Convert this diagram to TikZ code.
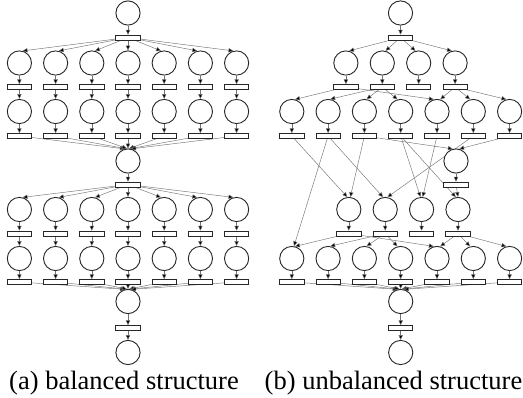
\documentclass[tikz,border=0pt]{standalone}
\usepackage{fontspec}
\setmainfont{Liberation Serif}
\usetikzlibrary{arrows.meta,backgrounds}
\tikzset{
  pl/.style={circle, draw=black!85, line width=0.9pt, minimum size=24.2pt, inner sep=0pt, fill=white},
  tr/.style={rectangle, draw=black!85, line width=0.75pt, minimum width=24.3pt, minimum height=4.8pt, inner sep=0pt, fill=white},
  arc/.style={draw=black!55, line width=0.45pt, -{Triangle[length=4.8pt,width=4.2pt,fill=black]}},
  capt/.style={anchor=base, inner sep=0pt, font=\fontsize{26.5}{30}\selectfont},
}
\begin{document}
\begin{tikzpicture}[x=1pt,y=-1pt]
\useasboundingbox (0,0) rectangle (523,398);
% ---------------- (a) balanced ----------------
\node[pl] (a0) at (128,13) {};
\node[tr] (at0) at (128,37.5) {};
\foreach \i in {1,...,7} {
  \pgfmathsetmacro{\xx}{128+36.2*(\i-4)}
  \node[pl] (a1\i) at (\xx,63) {};
  \node[tr] (at1\i) at (\xx,87) {};
  \node[pl] (a2\i) at (\xx,111.5) {};
  \node[tr] (at2\i) at (\xx,136) {};
  \node[pl] (a3\i) at (\xx,209.5) {};
  \node[tr] (at3\i) at (\xx,233.5) {};
  \node[pl] (a4\i) at (\xx,258.5) {};
  \node[tr] (at4\i) at (\xx,282) {};
}
\node[pl] (am) at (128,161) {};
\node[tr] (atm) at (128,184.5) {};
\node[pl] (ab) at (128,301.5) {};
\node[tr] (atb) at (128,328) {};
\node[pl] (ae) at (128,352.5) {};
% ---------------- (b) unbalanced ----------------
\node[pl] (b0) at (400.5,13) {};
\node[tr] (bt0) at (400.5,37.5) {};
\foreach \i in {1,...,4} {
  \pgfmathsetmacro{\xa}{400.5+36.4*(\i-2.5)}
  \pgfmathsetmacro{\xb}{403.4+36.4*(\i-2.5)}
  \node[pl] (b1\i) at (\xa,63) {};
  \node[tr] (bt1\i) at (\xa,87) {};
  \node[pl] (b3\i) at (\xb,209.5) {};
  \node[tr] (bt3\i) at (\xb,233.5) {};
}
\foreach \i in {1,...,7} {
  \pgfmathsetmacro{\xx}{400.7+36.3*(\i-4)}
  \node[pl] (b2\i) at (\xx,111.5) {};
  \node[tr] (bt2\i) at (\xx,136) {};
  \node[pl] (b4\i) at (\xx,258.5) {};
  \node[tr] (bt4\i) at (\xx,282) {};
}
\node[pl] (bm) at (456,161) {};
\node[tr] (btm) at (456,184.5) {};
\node[pl] (bb) at (400.7,301.5) {};
\node[tr] (btb) at (400.7,328) {};
\node[pl] (be) at (400.7,352.5) {};
% ---------------- arcs ----------------
\begin{scope}[on background layer]
  % (a)
  \draw[arc] (a0) -- (at0);
  \foreach \i in {1,...,7} {
    \pgfmathsetmacro{\fan}{90+15*sign(\i-4)}
    \pgfmathsetmacro{\cnv}{90+5*(4-\i)}
    \draw[arc] (at0) -- (a1\i.\fan);
    \draw[arc] (a1\i) -- (at1\i);
    \draw[arc] (at1\i) -- (a2\i);
    \draw[arc] (a2\i) -- (at2\i);
    \draw[arc] (at2\i) -- (am.\cnv);
    \draw[arc] (atm) -- (a3\i.\fan);
    \draw[arc] (a3\i) -- (at3\i);
    \draw[arc] (at3\i) -- (a4\i);
    \draw[arc] (a4\i) -- (at4\i);
    \draw[arc] (at4\i) -- (ab.\cnv);
  }
  \draw[arc] (am) -- (atm);
  \draw[arc] (ab) -- (atb);
  \draw[arc] (atb) -- (ae);
  % (b)
  \draw[arc] (b0) -- (bt0);
  \foreach \i in {1,...,4} {
    \pgfmathsetmacro{\fan}{90+15*sign(\i-2.5)}
    \draw[arc] (bt0) -- (b1\i.\fan);
    \draw[arc] (b1\i) -- (bt1\i);
    \draw[arc] (b3\i) -- (bt3\i);
  }
  \foreach \s/\t/\ang in {1/1/75,1/5/105,2/2/80,2/3/80,2/4/105,4/5/75,4/6/105,4/7/105} {
    \draw[arc] (bt1\s) -- (b2\t.\ang);
    \draw[arc] (bt3\s) -- (b4\t.\ang);
  }
  \foreach \i in {1,...,7} {
    \pgfmathsetmacro{\cnv}{90+5*(4-\i)}
    \draw[arc] (b2\i) -- (bt2\i);
    \draw[arc] (b4\i) -- (bt4\i);
    \draw[arc] (bt4\i) -- (bb.\cnv);
  }
  \draw[arc] (bt21) -- (b31.97);
  \draw[arc] (bt22) -- (b41.80);
  \draw[arc] (bt22) -- (b32.100);
  \draw[arc] (bt23) -- (b31.83);
  \draw[arc] (bt23) -- (bm.105);
  \draw[arc] (bt24) -- (b33.95);
  \draw[arc] (bt24) -- (b34.100);
  \draw[arc] (bt25) -- (b33.85);
  \draw[arc] (bt26) -- (b32.80);
  \draw[arc] (bt27) -- (bm.75);
  \draw[arc] (bm) -- (btm);
  \draw[arc] (btm) -- (b34.north);
  \draw[arc] (bb) -- (btb);
  \draw[arc] (btb) -- (be);
\end{scope}
% ---------------- captions ----------------
\node[capt] (ca) at (124,390) {(a) balanced structure};
\node[capt] (cb) at (393.5,390) {(b) unbalanced structure};
\end{tikzpicture}
\end{document}
